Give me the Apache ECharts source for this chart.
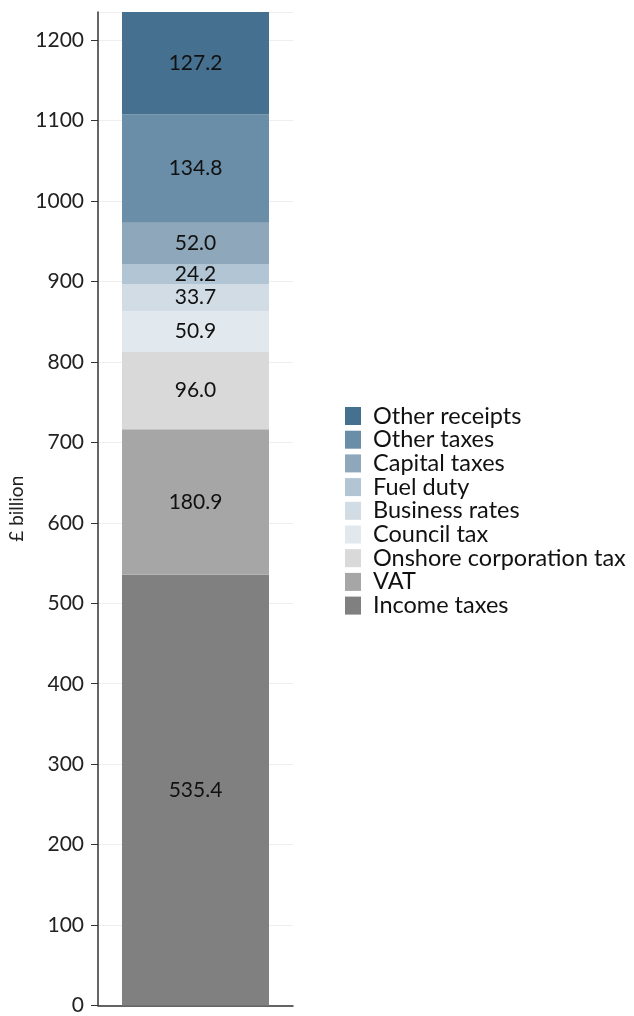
<!DOCTYPE html>
<html>
<head>
<meta charset="utf-8">
<script src="https://cdn.jsdelivr.net/npm/echarts@6/dist/echarts.min.js"></script>
<style>
  html, body { margin: 0; padding: 0; background: #fff; }
  #chart { width: 634px; height: 1016px; }
</style>
</head>
<body>
<div id="chart"></div>
<script>
  // receipts, bottom of the stack first
  var seriesNames = ['Income taxes', 'VAT', 'Onshore corporation tax', 'Council tax',
    'Business rates', 'Fuel duty', 'Capital taxes', 'Other taxes', 'Other receipts'];
  var seriesValues = [535.4, 180.9, 96.0, 50.9, 33.7, 24.2, 52.0, 134.8, 127.2];
  var seriesColors = ['#808080', '#a6a6a6', '#d9d9d9', '#e1e8ee',
    '#d1dce5', '#b1c5d4', '#8fa7ba', '#6a8da8', '#46708f'];
  var categories = [''];

  var total = seriesValues.reduce(function (a, b) { return a + b; }, 0);
  var font = 'Lato, "Noto Sans", sans-serif';

  var chart = echarts.init(document.getElementById('chart'));

  var series = seriesNames.map(function (name, i) {
    return {
      name: name,
      type: 'bar',
      stack: 'total',
      barWidth: 147,
      data: [seriesValues[i]],
      itemStyle: { color: seriesColors[i] },
      label: {
        show: true,
        position: 'inside',
        color: '#111',
        fontFamily: font,
        fontSize: 21,
        formatter: function (p) { return p.value.toFixed(1); }
      }
    };
  });

  chart.setOption({
    animation: false,
    textStyle: { fontFamily: font },
    grid: { left: 98, right: 341, top: 12, bottom: 8 },
    legend: {
      orient: 'vertical',
      left: 340,
      top: 399,
      itemWidth: 16,
      itemHeight: 18,
      itemGap: -0.3,
      icon: 'rect',
      data: seriesNames.slice().reverse(),
      textStyle: { fontFamily: font, fontSize: 23.5, color: '#111',
        padding: [0, 0, 0, 7] }
    },
    xAxis: {
      type: 'category',
      data: categories,
      axisLine: { lineStyle: { color: '#333', width: 1.5 } },
      axisTick: { show: false },
      axisLabel: { show: false }
    },
    yAxis: {
      type: 'value',
      min: 0,
      max: total,
      interval: 100,
      name: '£ billion',
      nameLocation: 'middle',
      nameGap: 72,
      nameTextStyle: { fontFamily: font, fontSize: 19, color: '#222' },
      axisLine: { show: true, lineStyle: { color: '#333', width: 1.5 } },
      axisTick: { show: true, length: 7, lineStyle: { color: '#333' } },
      axisLabel: { fontFamily: font, fontSize: 21, color: '#222', margin: 14,
        showMaxLabel: false,
        formatter: function (v) { return String(v); } },
      splitLine: { show: true, lineStyle: { color: '#eeeeee' } }
    },
    series: series
  });

  window.addEventListener('resize', function () {
    chart.resize();
  });
</script>
</body>
</html>
